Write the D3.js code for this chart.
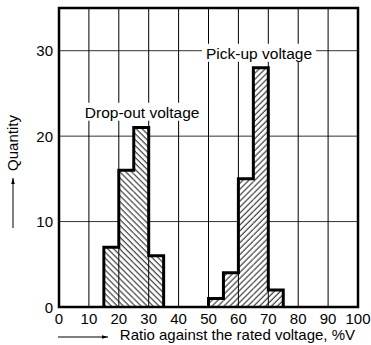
<!DOCTYPE html>
<html><head><meta charset="utf-8">
<script src="https://cdn.jsdelivr.net/npm/d3@7"></script>
<style>body{margin:0;background:#fff}svg{display:block}text{font-family:"Liberation Sans",Arial,Helvetica,sans-serif;fill:#000}</style>
</head><body>
<script>
const xTicks = [0,10,20,30,40,50,60,70,80,90,100];
const yTicks = [0,10,20,30];
const binWidth = 5;
const dropBins = [15,20,25,30];
const dropCounts = [7,16,21,6];
const pickBins = [50,55,60,65,70];
const pickCounts = [1,4,15,28,2];
const labels = [
  {text:"Drop-out voltage", x:27.8, y:22.8},
  {text:"Pick-up voltage", x:66.9, y:29.7}
];

const W=371,H=345;
const L=59,R=358,T=8,B=307;
const svg=d3.select("body").append("svg").attr("width",W).attr("height",H);
const x=d3.scaleLinear().domain([0,100]).range([L,R]);
const y=d3.scaleLinear().domain([0,35]).range([B,T]);

const defs=svg.append("defs");
function pat(id,rot){
  const s=4.2;
  const p=defs.append("pattern").attr("id",id).attr("patternUnits","userSpaceOnUse")
    .attr("width",s).attr("height",s).attr("patternTransform",`rotate(${rot})`);
  p.append("rect").attr("width",s).attr("height",s).attr("fill","#fff");
  p.append("line").attr("x1",1).attr("x2",1).attr("y1",0).attr("y2",s).attr("stroke","#000").attr("stroke-width",0.9);
}
pat("hatchBack",-45);
pat("hatchFwd",45);

// horizontal grid
svg.append("g").selectAll("line").data(yTicks.filter(d=>d>0)).join("line")
  .attr("x1",L).attr("x2",R).attr("y1",d=>y(d)).attr("y2",d=>y(d))
  .attr("stroke","#333").attr("stroke-width",1);

function drawHist(bins,counts,fill){
  svg.append("g").selectAll("rect").data(bins).join("rect")
    .attr("x",d=>x(d)).attr("width",d=>x(d+binWidth)-x(d))
    .attr("y",(d,i)=>y(counts[i])).attr("height",(d,i)=>y(0)-y(counts[i]))
    .attr("fill",`url(#${fill})`);
}
drawHist(dropBins,dropCounts,"hatchBack");
drawHist(pickBins,pickCounts,"hatchFwd");

// vertical grid
svg.append("g").selectAll("line").data(xTicks.filter(d=>d>0&&d<100)).join("line")
  .attr("x1",d=>x(d)).attr("x2",d=>x(d)).attr("y1",T).attr("y2",B)
  .attr("stroke","#000").attr("stroke-width",1);

function outline(bins,counts){
  const pts=[[x(bins[0]),y(0)]];
  bins.forEach((b,i)=>{pts.push([x(b),y(counts[i])]);pts.push([x(b+binWidth),y(counts[i])]);});
  pts.push([x(bins[bins.length-1]+binWidth),y(0)]);
  svg.append("path").attr("d",d3.line()(pts)).attr("fill","none")
    .attr("stroke","#000").attr("stroke-width",3).attr("stroke-linejoin","miter");
}
outline(dropBins,dropCounts);
outline(pickBins,pickCounts);

// labels with white backgrounds
labels.forEach(l=>{
  const g=svg.append("g");
  const t=g.append("text").attr("x",x(l.x)).attr("y",y(l.y)).attr("text-anchor","middle")
    .attr("dominant-baseline","central").attr("font-size",15.5).text(l.text);
  const bb=t.node().getBBox();
  g.insert("rect","text").attr("x",bb.x-4).attr("y",bb.y-1).attr("width",bb.width+8).attr("height",bb.height+1).attr("fill","#fff");
});

// frame
svg.append("rect").attr("x",L).attr("y",T).attr("width",R-L).attr("height",B-T)
  .attr("fill","none").attr("stroke","#000").attr("stroke-width",2.5);

// tick labels
svg.append("g").selectAll("text").data(xTicks).join("text")
  .attr("x",d=>x(d)).attr("y",B+11).attr("text-anchor","middle").attr("dominant-baseline","central")
  .attr("font-size",15).text(d=>d);
svg.append("g").selectAll("text").data(yTicks).join("text")
  .attr("x",L-6).attr("y",d=>y(d)).attr("text-anchor","end").attr("dominant-baseline","central")
  .attr("font-size",15).text(d=>d);

// axis titles
defs.append("marker").attr("id","arr").attr("viewBox","0 0 10 10").attr("refX",10).attr("refY",5)
  .attr("markerWidth",6).attr("markerHeight",6).attr("orient","auto")
  .append("path").attr("d","M0,2 L10,5 L0,8 Z").attr("fill","#000");
svg.append("line").attr("x1",58).attr("x2",108).attr("y1",337).attr("y2",337)
  .attr("stroke","#000").attr("stroke-width",1).attr("marker-end","url(#arr)");
svg.append("text").attr("x",355).attr("y",334).attr("text-anchor","end").attr("dominant-baseline","central")
  .attr("font-size",15).text("Ratio against the rated voltage, %V");
svg.append("line").attr("x1",13).attr("x2",13).attr("y1",228).attr("y2",178)
  .attr("stroke","#000").attr("stroke-width",1).attr("marker-end","url(#arr)");
svg.append("text").attr("transform","translate(12.5,143) rotate(-90)").attr("text-anchor","middle")
  .attr("dominant-baseline","central").attr("font-size",15).text("Quantity");
</script>
</body></html>
